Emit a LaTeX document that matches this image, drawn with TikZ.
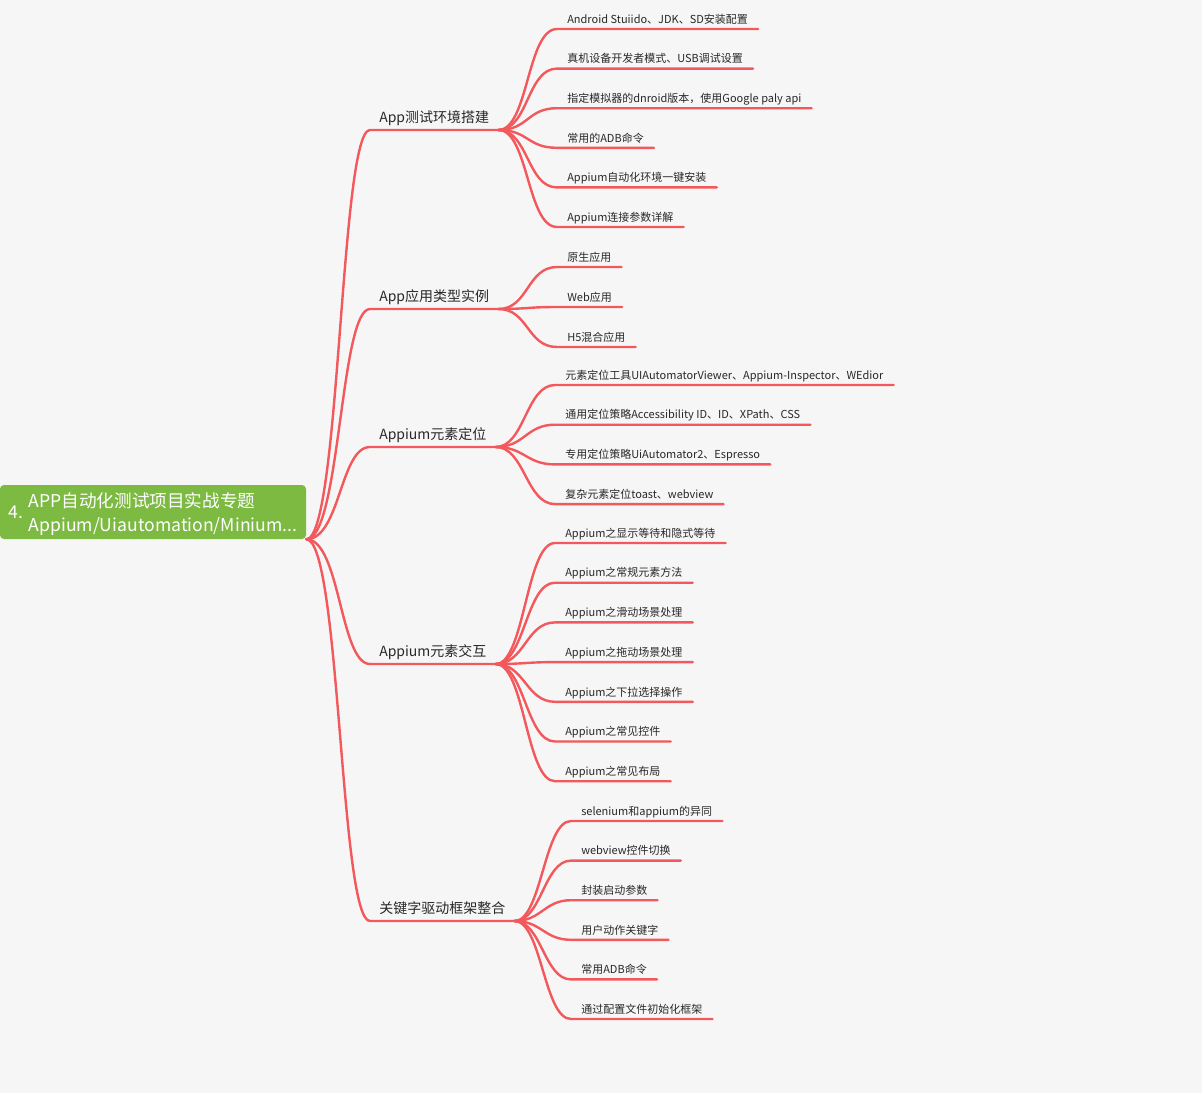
\documentclass[tikz,border=0pt]{standalone}
\usepackage{fontspec}
\setmainfont{Noto Sans CJK SC}

\definecolor{paper}{RGB}{246,246,246}
\definecolor{rootgreen}{RGB}{124,186,66}
\definecolor{branchred}{RGB}{242,88,92}
\definecolor{ink}{RGB}{40,40,40}

\tikzset{
	branch/.style = {line width = 1.8pt, draw = branchred, line cap = round},
	roottopic/.style = {fill = rootgreen, rounded corners = 3pt, text = white, inner sep = 0pt,
		minimum width = 229.5pt, minimum height = 40.5pt, font = \fontsize{13.2}{18}\selectfont},
	topic/.style = {anchor = south west, inner xsep = 6.75pt, inner ysep = 0pt, text depth = 5.1pt,
		text = ink, font = \fontsize{10.5}{12}\selectfont},
	leaf/.style = {anchor = south west, inner xsep = 7.5pt, inner ysep = 0pt, text depth = 4.1pt,
		text = ink, font = \fontsize{8.25}{10}\selectfont}
}

\begin{document}
\begin{tikzpicture}[x = 0.75pt, y = -0.75pt]

	% Page
	
	\fill [paper] (0, 0) rectangle (1202, 1093);
	\useasboundingbox (0, 0) rectangle (1202, 1093);
	
	% Central topic
	
	\node [roottopic] (root) at (153, 512)
		{\raisebox{-2.2pt}[\height][\depth]{4.\hspace{4pt}\begin{tabular}{@{}l@{}}APP自动化测试项目实战专题\\Appium/Uiautomation/Minium...\end{tabular}}};
	
	% Main branches
	
	\node [topic] (env) at (370, 130) {App测试环境搭建};
	\node [topic] (type) at (370, 309) {App应用类型实例};
	\node [topic] (loc) at (370, 447) {Appium元素定位};
	\node [topic] (act) at (370, 664) {Appium元素交互};
	\node [topic] (key) at (370, 921) {关键字驱动框架整合};
	
	\foreach \t in {env, type, loc, act, key}
		\draw [branch] (root.south east) .. controls +(34, 0) and +(-30, 0) .. (\t.south west) -- (\t.south east);
	
	% Leaves
	
	\foreach \txt [count = \i] in {{Android Stuiido、JDK、SD安装配置}, {真机设备开发者模式、USB调试设置},
		{指定模拟器的dnroid版本，使用Google paly api}, {常用的ADB命令}, {Appium自动化环境一键安装}, {Appium连接参数详解}}
	{
		\node [leaf] (env\i) at (557, {29 + 39.6 * (\i - 1)}) {\txt};
		\draw [branch] (env.south east) .. controls +(30, 0) and +(-30, 0) .. (env\i.south west) -- (env\i.south east);
	}
	
	\foreach \txt [count = \i] in {原生应用, Web应用, H5混合应用}
	{
		\node [leaf] (type\i) at (557, {267 + 40 * (\i - 1)}) {\txt};
		\draw [branch] (type.south east) .. controls +(30, 0) and +(-30, 0) .. (type\i.south west) -- (type\i.south east);
	}
	
	\foreach \txt [count = \i] in {{元素定位工具UIAutomatorViewer、Appium-Inspector、WEdior}, {通用定位策略Accessibility ID、ID、XPath、CSS},
		{专用定位策略UiAutomator2、Espresso}, {复杂元素定位toast、webview}}
	{
		\node [leaf] (loc\i) at (555, {385 + 39.7 * (\i - 1)}) {\txt};
		\draw [branch] (loc.south east) .. controls +(29, 0) and +(-29, 0) .. (loc\i.south west) -- (loc\i.south east);
	}
	
	\foreach \txt [count = \i] in {Appium之显示等待和隐式等待, Appium之常规元素方法, Appium之滑动场景处理, Appium之拖动场景处理,
		Appium之下拉选择操作, Appium之常见控件, Appium之常见布局}
	{
		\node [leaf] (act\i) at (555, {543 + 39.7 * (\i - 1)}) {\txt};
		\draw [branch] (act.south east) .. controls +(29, 0) and +(-29, 0) .. (act\i.south west) -- (act\i.south east);
	}
	
	\foreach \txt [count = \i] in {selenium和appium的异同, webview控件切换, 封装启动参数, 用户动作关键字, 常用ADB命令, 通过配置文件初始化框架}
	{
		\node [leaf] (key\i) at (571, {821 + 39.6 * (\i - 1)}) {\txt};
		\draw [branch] (key.south east) .. controls +(27, 0) and +(-27, 0) .. (key\i.south west) -- (key\i.south east);
	}

\end{tikzpicture}
\end{document}
